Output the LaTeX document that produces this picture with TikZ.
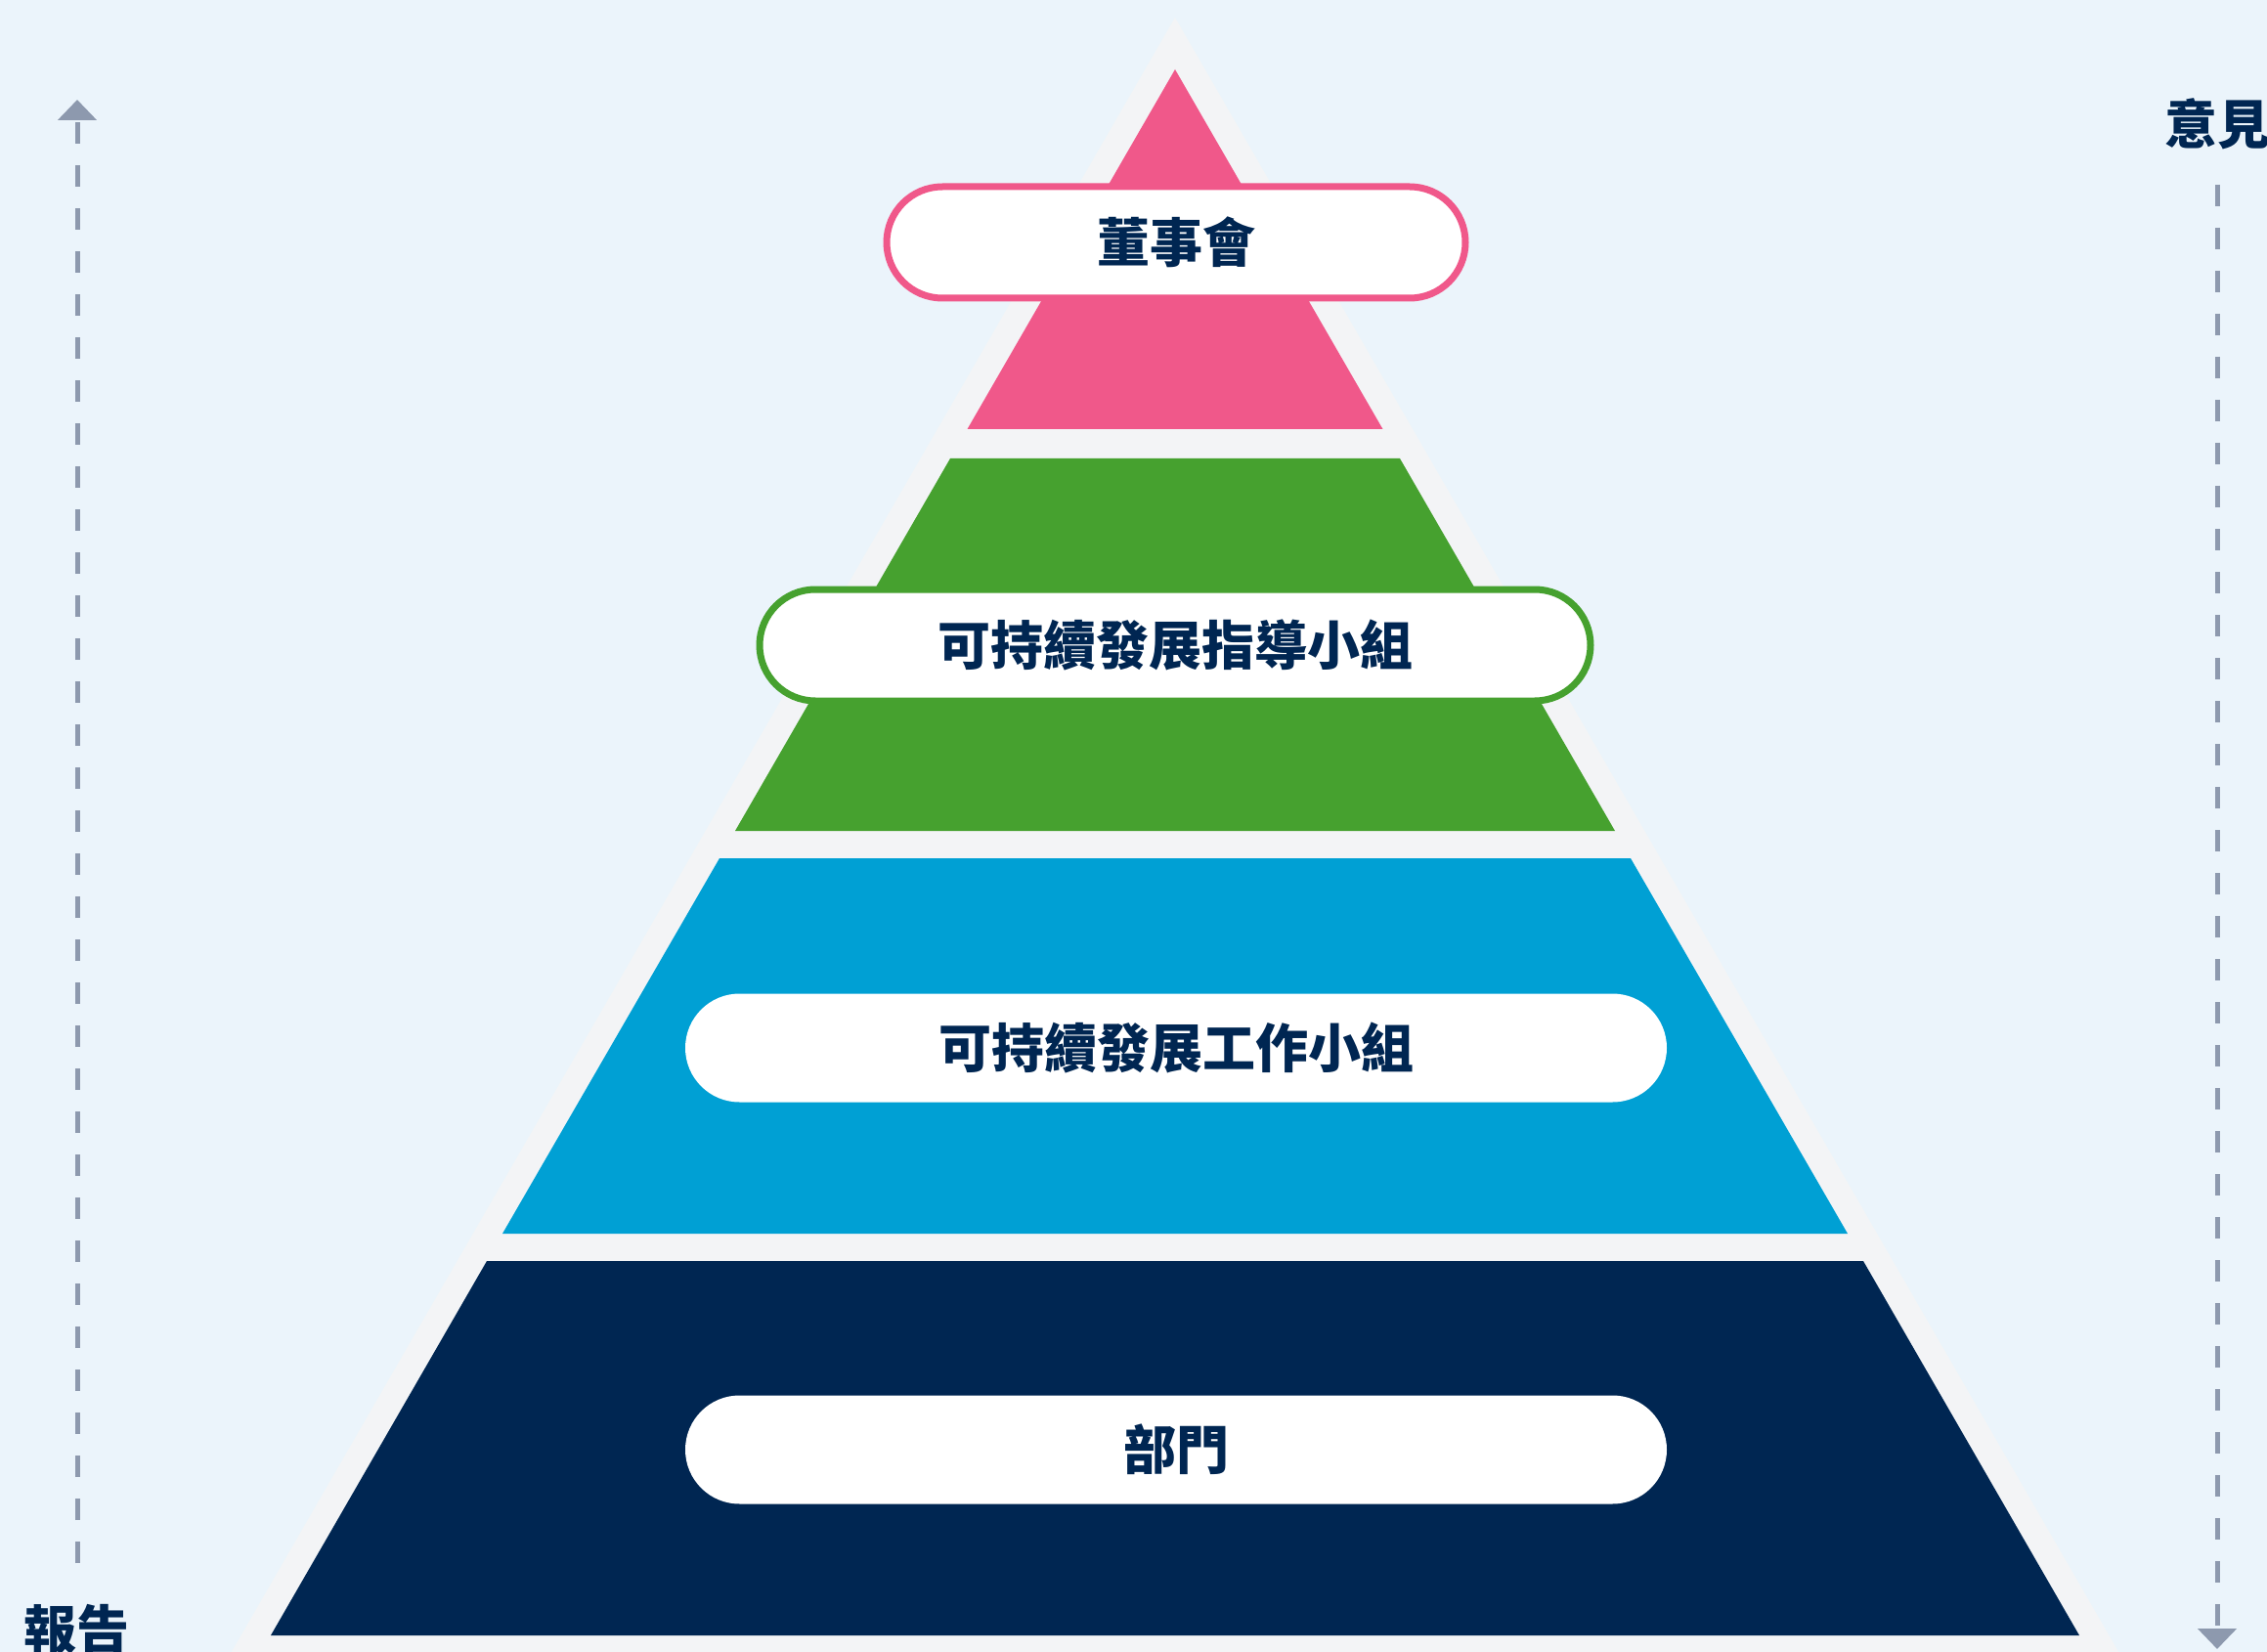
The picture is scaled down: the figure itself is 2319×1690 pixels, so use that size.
\documentclass[tikz,border=0pt]{standalone}
\usepackage{fontspec}
\newfontfamily\cjk{Noto Sans CJK TC}
\usepackage{tikz}
\usetikzlibrary{arrows.meta, shapes.misc, positioning}
\definecolor{PaleSky}{RGB}{235, 244, 251}
\definecolor{FrameGray}{RGB}{243, 244, 246}
\definecolor{BoardPink}{RGB}{240, 88, 138}
\definecolor{LeafGreen}{RGB}{70, 161, 47}
\definecolor{OceanBlue}{RGB}{0, 160, 212}
\definecolor{DeepNavy}{RGB}{0, 38, 82}
\definecolor{ArrowGray}{RGB}{141, 153, 174}

\begin{document}
\begin{tikzpicture}[
            x=0.5pt, y=-0.5pt,
            pill/.style={rounded rectangle, fill=white, inner sep=0pt, minimum width=502pt, minimum height=55.5pt, text=DeepNavy, font=\cjk\bfseries\fontsize{27}{32}\selectfont},
            ringed/.style={pill, line width=3.5pt, minimum height=57pt},
            side/.style={text=DeepNavy, font=\cjk\bfseries\fontsize{27}{32}\selectfont},
            flow/.style={draw=ArrowGray, line width=2.5pt, dash pattern=on 11pt off 11pt, -{Triangle[width=19.5pt, length=10.5pt]}}
        ]

        % --- TLO ---
        \useasboundingbox (0, 0) rectangle (2319, 1690);
        \fill[PaleSky] (0, 0) rectangle (2319, 1690);
        \fill[FrameGray] (1202, 18) -- (208, 1740) -- (2196, 1740) -- cycle;

        % --- WARSTWY PIRAMIDY ---
        \fill[BoardPink] (1202, 71) -- (989.5, 439) -- (1414.5, 439) -- cycle;
        \fill[LeafGreen] (972, 469) -- (1432, 469) -- (1652, 850) -- (752, 850) -- cycle;
        \fill[OceanBlue] (736, 878) -- (1668, 878) -- (1890, 1262) -- (514, 1262) -- cycle;
        \fill[DeepNavy] (498, 1290) -- (1906, 1290) -- (2127, 1673) -- (277, 1673) -- cycle;

        % --- ETYKIETY POZIOMOW ---
        \node[ringed, draw=BoardPink, minimum width=296pt] (board) at (1203, 248) {董事會};
        \node[ringed, draw=LeafGreen, minimum width=425pt] (steering) at (1202, 660) {可持續發展指導小組};
        \node[pill] (working) at (1203, 1072) {可持續發展工作小組};
        \node[pill] (depts) at (1203, 1483) {部門};

        % --- STRZALKI BOCZNE ---
        \node[side] (report) at (79, 1667) {報告};
        \coordinate (upStart) at (79, 1599);
        \coordinate (upEnd) at (79, 102);
        \draw[flow] (upStart) -- (upEnd);

        \node[side] (opinion) at (2268, 127) {意見};
        \coordinate (downStart) at (2268, 189);
        \coordinate (downEnd) at (2268, 1687);
        \draw[flow] (downStart) -- (downEnd);

        \end{tikzpicture}
\end{document}
